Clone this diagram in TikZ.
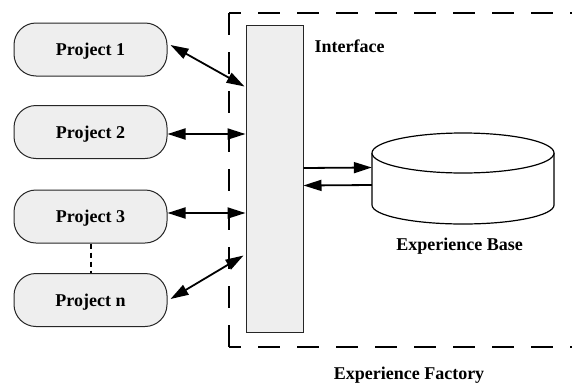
\documentclass[tikz,border=0pt]{standalone}
\usepackage{fontspec}
\setmainfont{Liberation Serif}
\newfontfamily\lserif{Liberation Serif}[BoldFont={Liberation Serif Bold}]
\usetikzlibrary{arrows.meta}
\definecolor{boxgray}{HTML}{EEEEEE}
\begin{document}
\begin{tikzpicture}[x=1pt,y=-1pt,
  font=\lserif\bfseries\fontsize{18}{20}\selectfont,
  proj/.style={draw=black!85, line width=1pt, fill=boxgray, rounded corners=22pt, minimum width=153pt, minimum height=53pt, inner sep=0pt, text depth=0pt},
  ifbox/.style={draw=black!85, line width=1pt, fill=boxgray, minimum width=57pt, minimum height=307pt, inner sep=0pt},
  arr/.style={line width=1.8pt, -{Triangle[length=18pt,width=11pt]}},
  darr/.style={line width=1.8pt, {Triangle[length=18pt,width=11pt]}-{Triangle[length=18pt,width=11pt]}},
  lbl/.style={inner sep=0pt, text depth=0pt},
  dashbox/.style={line width=2pt, dash pattern=on 22pt off 17pt}]
\useasboundingbox (0,0) rectangle (572,383);
\clip (0,0) rectangle (572,383);
% dashed boundary
\draw[dashbox, dash phase=10pt] (229,13) -- (600,13);
\draw[dashbox] (229,13) -- (229,347);
\draw[dashbox, dash phase=10pt] (229,347) -- (600,347);
% projects
\node[proj] (p1) at (90.5,49.5) {Project 1};
\node[proj] (p2) at (90.5,132) {Project 2};
\node[proj] (p3) at (90.5,216.5) {Project 3};
\node[proj] (pn) at (90.5,300) {Project n};
% interface
\node[ifbox] (ifc) at (274.5,178.5) {};
\node[lbl] (ifl) at (349.5,46) {Interface};
% experience base
\node[inner sep=0pt, minimum width=182pt, minimum height=90pt] (eb) at (463,178) {};
\draw[line width=1.2pt, fill=white] (372,153) -- (372,205) arc[start angle=180, end angle=360, x radius=91pt, y radius=19pt] -- (554,153);
\draw[line width=1.2pt, fill=white] (463,153) ellipse [x radius=91pt, y radius=20pt];
\node[lbl] (ebl) at (459.5,244.5) {Experience Base};
\node[lbl] (efl) at (409,373.5) {Experience Factory};
% connectors
\draw[arr] ([yshift=10.5pt]ifc.east) -- ([yshift=10.5pt]eb.west);
\draw[arr] ([yshift=-7pt]eb.west) -- ([yshift=-7pt]ifc.east);
\draw[darr] ([xshift=3pt,yshift=4.5pt]p1.east) -- ([xshift=-1pt,yshift=-62pt]ifc.north west);
\path ([yshift=-2pt]p2.east) coordinate (a2);
\draw[darr] (a2) -- (a2 -| ifc.west);
\path ([yshift=3.5pt]p3.east) coordinate (a3);
\draw[darr] (a3) -- (a3 -| ifc.west);
\draw[darr] ([xshift=3pt,yshift=1pt]pn.east) -- ([xshift=-2pt,yshift=-231pt]ifc.north west);
\draw[line width=2pt, dash pattern=on 5pt off 4pt] (p3.south) -- (pn.north);
\end{tikzpicture}
\end{document}
